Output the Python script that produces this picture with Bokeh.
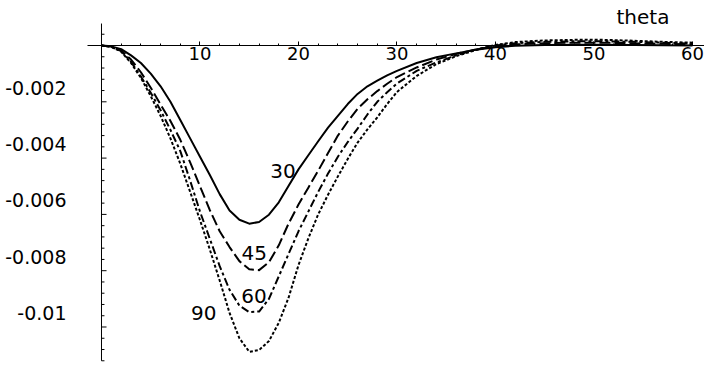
from bokeh.plotting import figure
from bokeh.models import Range1d, LinearAxis, FixedTicker
from bokeh.core.properties import value
from bokeh.embed import file_html
from bokeh.resources import INLINE

# ---- data ----
theta = [0, 1, 2, 3, 4, 5, 6, 7, 8, 9, 10, 11, 12, 13, 14, 15, 16, 17, 18, 19, 20,
         21, 22, 23, 24, 25, 26, 27, 28, 29, 30, 32, 34, 36, 38, 40, 42, 45, 48, 51,
         54, 57, 60]
s30 = [0, -0.00003, -0.00013, -0.00035, -0.00062, -0.00100, -0.00145, -0.00200, -0.00265,
       -0.00330, -0.00395, -0.00460, -0.00528, -0.00586, -0.00619, -0.00633, -0.00627,
       -0.00601, -0.00557, -0.00498, -0.00440, -0.00390, -0.00340, -0.00292, -0.00250,
       -0.00208, -0.00172, -0.00145, -0.00125, -0.00106, -0.00090, -0.00062, -0.00042,
       -0.00028, -0.00015, -0.00006, -0.00001, 0.00002, 0.00003, 0.00003, 0.00002,
       0.00001, 0.0]
s45 = [0, -0.00004, -0.00018, -0.00050, -0.00095, -0.00150, -0.00210, -0.00268, -0.00335,
       -0.00415, -0.00500, -0.00585, -0.00660, -0.00716, -0.00766, -0.00795, -0.00798,
       -0.00770, -0.00710, -0.00632, -0.00565, -0.00505, -0.00445, -0.00382, -0.00320,
       -0.00270, -0.00225, -0.00191, -0.00162, -0.00136, -0.00112, -0.00078, -0.00050,
       -0.00030, -0.00014, -0.00002, 0.00004, 0.00008, 0.00010, 0.00010, 0.00008,
       0.00006, 0.00004]
s60 = [0, -0.00005, -0.00020, -0.00058, -0.00110, -0.00168, -0.00230, -0.00300, -0.00375,
       -0.00480, -0.00590, -0.00687, -0.00784, -0.00868, -0.00924, -0.00947, -0.00945,
       -0.00900, -0.00820, -0.00740, -0.00660, -0.00590, -0.00520, -0.00455, -0.00395,
       -0.00343, -0.00295, -0.00245, -0.00200, -0.00166, -0.00135, -0.00090, -0.00060,
       -0.00035, -0.00015, 0.00000, 0.00008, 0.00013, 0.00015, 0.00015, 0.00013,
       0.00010, 0.00007]
s90 = [0, -0.00005, -0.00022, -0.00062, -0.00115, -0.00180, -0.00250, -0.00330, -0.00420,
       -0.00520, -0.00620, -0.00725, -0.00835, -0.00950, -0.01040, -0.01088, -0.01082,
       -0.01050, -0.00985, -0.00895, -0.00780, -0.00685, -0.00600, -0.00530, -0.00465,
       -0.00403, -0.00345, -0.00298, -0.00255, -0.00208, -0.00165, -0.00108, -0.00066,
       -0.00038, -0.00016, 0.00002, 0.00012, 0.00018, 0.00020, 0.00020, 0.00017,
       0.00013, 0.00010]

curve_labels = ["30", "45", "60", "90"]
label_x = [18.43, 15.51, 15.48, 10.39]
label_y = [-0.00447, -0.00737, -0.00891, -0.00949]

xtick_major = [10, 20, 30, 40, 50, 60]
xtick_minor = [2, 4, 6, 8, 12, 14, 16, 18, 22, 24, 26, 28, 32, 34, 36, 38,
               42, 44, 46, 48, 52, 54, 56, 58]
ytick_major = [-0.01, -0.008, -0.006, -0.004, -0.002]
ytick_labels = ["-0.01", "-0.008", "-0.006", "-0.004", "-0.002"]
ytick_minor = [0.0004, -0.0004, -0.0008, -0.0012, -0.0016, -0.0024, -0.0028, -0.0032,
               -0.0036, -0.0044, -0.0048, -0.0052, -0.0056, -0.0064, -0.0068, -0.0072,
               -0.0076, -0.0084, -0.0088, -0.0092, -0.0096, -0.0104, -0.0108, -0.0112]
x_title = "theta"
x_title_pos = (54.97, 0.00102)

# ---- layout constants ----
X0, X1 = -10.254, 61.22
Y0, Y1 = -0.011723, 0.0015986
LABEL_SHIFT = 0.0005          # y labels sit above their ticks in the reference
YAX_BOUNDS = (-0.0112, 0.00078)
XAX_BOUNDS = (-1.42, 61.3)
MAJ_LEN = 0.51                # ~5 px in x data units
MIN_LEN = 0.30                # ~3 px
FONT = "DejaVu Sans"

p = figure(width=704, height=375, output_backend="svg", toolbar_location=None,
           x_range=Range1d(X0, X1), y_range=Range1d(Y0, Y1),
           min_border=0, y_axis_location=None, outline_line_color=None,
           background_fill_color="white", border_fill_color="white")
p.grid.visible = False

# x axis crossing at y = 0
xa = p.xaxis[0]
xa.fixed_location = 0
xa.bounds = XAX_BOUNDS
xa.ticker = FixedTicker(ticks=xtick_major, minor_ticks=xtick_minor)
xa.major_tick_in = 4
xa.major_tick_out = 0
xa.minor_tick_in = 2
xa.minor_tick_out = 0
xa.axis_line_color = "black"
xa.major_tick_line_color = "black"
xa.minor_tick_line_color = "black"
xa.major_label_standoff = 1
xa.major_label_text_font = FONT
xa.major_label_text_font_size = "18px"
xa.major_label_text_color = "black"

# y axis labels (shifted up like the reference)
p.extra_y_ranges = {"lab": Range1d(Y0 - LABEL_SHIFT, Y1 - LABEL_SHIFT)}
ya = LinearAxis(y_range_name="lab", fixed_location=0,
                ticker=FixedTicker(ticks=ytick_major, minor_ticks=[]),
                major_label_overrides=dict(zip(ytick_major, ytick_labels)),
                axis_line_color=None, major_tick_line_color=None,
                minor_tick_line_color=None, major_tick_in=0, major_tick_out=0,
                minor_tick_in=0, minor_tick_out=0, major_label_standoff=35,
                major_label_text_font=FONT, major_label_text_font_size="19px",
                major_label_text_color="black")
p.add_layout(ya, "left")

# y axis line and ticks
p.segment(x0=[0], y0=[YAX_BOUNDS[0]], x1=[0], y1=[YAX_BOUNDS[1]],
          line_color="black", line_width=1)
p.segment(x0=[0] * len(ytick_major), y0=ytick_major,
          x1=[MAJ_LEN] * len(ytick_major), y1=ytick_major,
          line_color="black", line_width=1)
p.segment(x0=[0] * len(ytick_minor), y0=ytick_minor,
          x1=[MIN_LEN] * len(ytick_minor), y1=ytick_minor,
          line_color="black", line_width=1)

# curves
p.line(theta, s30, line_color="black", line_width=2, line_join="round")
p.line(theta, s45, line_color="black", line_width=2, line_dash="11 4", line_join="round")
p.line(theta, s60, line_color="black", line_width=2, line_dash="8 3 3 3", line_join="round")
p.line(theta, s90, line_color="black", line_width=2, line_dash="3 2", line_join="round")

# curve labels and axis title
p.text(x=label_x, y=label_y, text=curve_labels, text_font=value(FONT),
       text_font_size="20px", text_align="center", text_baseline="middle",
       text_color="black")
p.text(x=[x_title_pos[0]], y=[x_title_pos[1]], text=[x_title], text_font=value(FONT),
       text_font_size="20px", text_align="center", text_baseline="middle",
       text_color="black")

open("out.html", "w").write(file_html(p, INLINE))
